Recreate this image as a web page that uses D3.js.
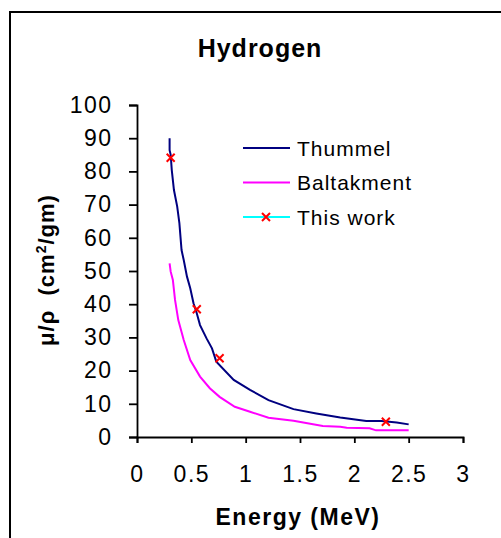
<!DOCTYPE html>
<html>
<head>
<meta charset="utf-8">
<script src="https://cdn.jsdelivr.net/npm/d3@7"></script>
<style>
  body { margin: 0; background: #fff; }
  svg { display: block; font-family: "Liberation Sans", Arial, sans-serif; }
</style>
</head>
<body>
<svg id="chart"></svg>
<script>
// Thummel curve (energy MeV, mu/rho)
const thummelE = [0.30, 0.30, 0.31, 0.32, 0.34, 0.37, 0.39, 0.41, 0.43, 0.46, 0.49, 0.52, 0.55, 0.58, 0.64, 0.69, 0.73, 0.89, 1.04, 1.21, 1.44, 1.65, 1.87, 2.11, 2.25, 2.39, 2.5];
const thummelY = [90, 86.4, 85, 80.4, 74.4, 69.4, 64.4, 56.3, 53.3, 48.3, 44.8, 40.3, 37.3, 33.7, 29.7, 26.7, 22.7, 17.2, 14.2, 11.1, 8.4, 7.1, 5.9, 4.8, 4.8, 4.4, 3.8];

// Baltakment curve
const baltE = [0.30, 0.31, 0.33, 0.35, 0.38, 0.43, 0.49, 0.58, 0.67, 0.76, 0.90, 1.04, 1.21, 1.44, 1.71, 1.87, 1.93, 2.14, 2.2, 2.5];
const baltY = [52.3, 49.8, 47.3, 41.3, 35.2, 29.2, 23.2, 18.2, 14.7, 12.1, 9.1, 7.6, 5.8, 4.9, 3.3, 3.1, 2.8, 2.6, 2.0, 2.0];

// This work (measured points)
const workE = [0.31, 0.55, 0.76, 2.29];
const workY = [84.1, 38.5, 23.7, 4.6];

const xTicks = [0, 0.5, 1, 1.5, 2, 2.5, 3];
const yTicks = [0, 10, 20, 30, 40, 50, 60, 70, 80, 90, 100];
const seriesNames = ["Thummel", "Baltakment", "This work"];

const width = 501,
  height = 538,
  margin = { top: 105, right: 38, bottom: 101, left: 137 };

const svg = d3.select("#chart").attr("width", width).attr("height", height);

// frame (only top and left edges show)
svg.append("line")
  .attr("x1", 10).attr("x2", width).attr("y1", 12).attr("y2", 12)
  .attr("stroke", "#000").attr("stroke-width", 2);
svg.append("line")
  .attr("x1", 10).attr("x2", 10).attr("y1", 11).attr("y2", height)
  .attr("stroke", "#000").attr("stroke-width", 2);

const x = d3.scaleLinear().domain([0, 3]).range([margin.left, width - margin.right]);
const y = d3.scaleLinear().domain([0, 100]).range([height - margin.bottom, margin.top]);

// Axes
const xAxis = svg.append("g")
  .attr("transform", `translate(0,${y(0)})`)
  .call(d3.axisBottom(x).tickValues(xTicks).tickSize(6).tickFormat(d3.format("")));
xAxis.selectAll("text").attr("y", 45).attr("dy", 0);

const yAxis = svg.append("g")
  .attr("transform", `translate(${x(0)},0)`)
  .call(d3.axisLeft(y).tickValues(yTicks).tickSize(8).tickPadding(18));

[xAxis, yAxis].forEach((g) => {
  g.select(".domain").attr("stroke-width", 1.8);
  g.selectAll(".tick line").attr("stroke-width", 1.8);
  g.selectAll("text")
    .style("font-size", "23px")
    .style("letter-spacing", "1.5px")
    .style("font-family", "Liberation Sans, Arial, sans-serif")
    .attr("fill", "#000");
});
yAxis.selectAll("text").attr("dx", 1.5);

// Titles
svg.append("text")
  .attr("x", 260).attr("y", 57)
  .attr("text-anchor", "middle")
  .style("font-size", "25px").style("font-weight", "bold")
  .style("letter-spacing", "1px")
  .text("Hydrogen");

svg.append("text")
  .attr("x", 298).attr("y", 525)
  .attr("text-anchor", "middle")
  .style("font-size", "23px").style("font-weight", "bold")
  .style("letter-spacing", "1.5px")
  .text("Energy (MeV)");

const yt = svg.append("text")
  .attr("transform", "translate(54,270) rotate(-90)")
  .attr("text-anchor", "middle")
  .style("font-size", "22px").style("font-weight", "bold")
  .style("letter-spacing", "1px");
yt.append("tspan").text("\u03bc/\u03c1\u00a0\u00a0(cm");
yt.append("tspan").attr("dy", -8).style("font-size", "14px").text("2");
yt.append("tspan").attr("dy", 8).text("/gm)");

// Lines
const line = d3.line().x((d) => x(d[0])).y((d) => y(d[1]));

svg.append("path")
  .datum(d3.zip(baltE, baltY))
  .attr("fill", "none").attr("stroke", "#ff00ff").attr("stroke-width", 2)
  .attr("d", line);

svg.append("path")
  .datum(d3.zip(thummelE, thummelY))
  .attr("fill", "none").attr("stroke", "#000080").attr("stroke-width", 2)
  .attr("d", line);

const cross = (g, cx, cy) => {
  g.append("path")
    .attr("d", `M${cx - 4},${cy - 4}L${cx + 4},${cy + 4}M${cx - 4},${cy + 4}L${cx + 4},${cy - 4}`)
    .attr("stroke", "#ff0000").attr("stroke-width", 2).attr("fill", "none");
};

const marks = svg.append("g");
d3.zip(workE, workY).forEach((d) => cross(marks, x(d[0]), y(d[1])));

// Legend
const legendColors = ["#000080", "#ff00ff", "#00ffff"];
const legend = svg.append("g");
seriesNames.forEach((name, i) => {
  const ly = 148 + i * 34.5;
  legend.append("line")
    .attr("x1", 243).attr("x2", 290).attr("y1", ly).attr("y2", ly)
    .attr("stroke", legendColors[i]).attr("stroke-width", 2);
  if (i === 2) cross(legend, 266, ly);
  legend.append("text")
    .attr("x", 297).attr("y", ly + 7.5)
    .style("font-size", "21px")
    .style("letter-spacing", "1px")
    .text(name);
});
</script>
</body>
</html>
